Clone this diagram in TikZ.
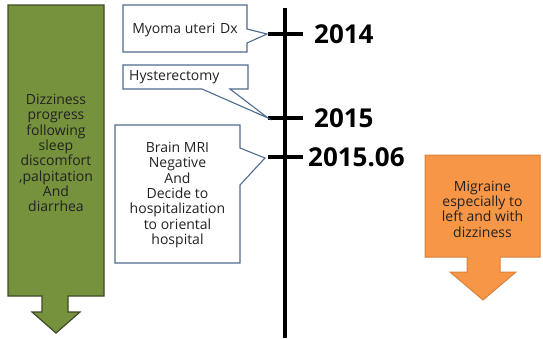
\documentclass[tikz,border=0pt]{standalone}
\usepackage{fontspec}
\setmainfont{Open Sans}
\definecolor{olivefill}{HTML}{76923C}
\definecolor{oliveline}{HTML}{3F4A25}
\definecolor{orangefill}{HTML}{F79646}
\definecolor{orangeline}{HTML}{D9823C}
\definecolor{callline}{HTML}{4F6B8F}
\definecolor{txt}{HTML}{222222}
\begin{document}
\begin{tikzpicture}[x=1pt,y=-1pt,
  callout/.style={draw=callline,line width=1.1pt,fill=white,line join=miter},
  greenarrow/.style={draw=oliveline,line width=1.2pt,fill=olivefill},
  orangearrow/.style={draw=orangeline,line width=1pt,fill=orangefill},
  bodytext/.style={font=\fontsize{14}{15.3}\selectfont,align=center,text=txt,inner sep=0pt},
  yearlabel/.style={font=\fontsize{26}{28}\bfseries\selectfont,anchor=west,inner sep=0pt,text=black},
  timeline/.style={line width=4pt,black},
  tickline/.style={line width=3.6pt,black}]
\useasboundingbox (0,0) rectangle (543,338);
% green arrow
\draw[greenarrow] (8,5) -- (104,5) -- (104,296) -- (68,296) -- (68,312) -- (80,312) -- (56,333) -- (32,312) -- (42,312) -- (42,296) -- (8,296) -- cycle;
\node[bodytext] (green) at (56,153) {Dizziness\\progress\\following\\sleep\\discomfort\\,palpitation\\And\\diarrhea};
% orange arrow
\draw[orangearrow] (425,155) -- (540,155) -- (540,257) -- (500,257) -- (500,272) -- (516,272) -- (483,300) -- (450,272) -- (467,272) -- (467,257) -- (425,257) -- cycle;
\node[bodytext] (orange) at (482.5,209) {Migraine\\especially to\\left and with\\dizziness};
% timeline
\coordinate (ttop) at (285,8);
\coordinate (tbot) at (285,338);
\draw[timeline] (ttop) -- (tbot);
\coordinate (t1a) at (268,34); \coordinate (t1b) at (303,34);
\coordinate (t2a) at (268,118); \coordinate (t2b) at (303,118);
\coordinate (t3a) at (268,157); \coordinate (t3b) at (303,157);
\draw[tickline] (t1a) -- (t1b);
\draw[tickline] (t2a) -- (t2b);
\draw[tickline] (t3a) -- (t3b);
\node[yearlabel] (y2014) at (314,34) {2014};
\node[yearlabel] (y2015) at (314,118) {2015};
\node[yearlabel] (y201506) at (308,157) {2015.06};
% callouts
\draw[callout] (123,5) -- (247,5) -- (247,29) -- (267,34) -- (247,43) -- (247,52) -- (123,52) -- cycle;
\node[bodytext] (c1) at (185,30) {Myoma uteri\hspace{1pt} Dx};
\draw[callout] (123,65) -- (248,65) -- (248,89) -- (230,89) -- (268,118) -- (202,89) -- (123,89) -- cycle;
\node[bodytext,anchor=west] (c2) at (129,77) {Hysterectomy};
\draw[callout] (115,125) -- (240,125) -- (240,148) -- (265,158) -- (240,185) -- (240,263) -- (115,263) -- cycle;
\node[bodytext] (c3) at (177.5,195) {Brain MRI\\Negative\\And\\Decide to\\hospitalization\\to oriental\\hospital};
\end{tikzpicture}
\end{document}
